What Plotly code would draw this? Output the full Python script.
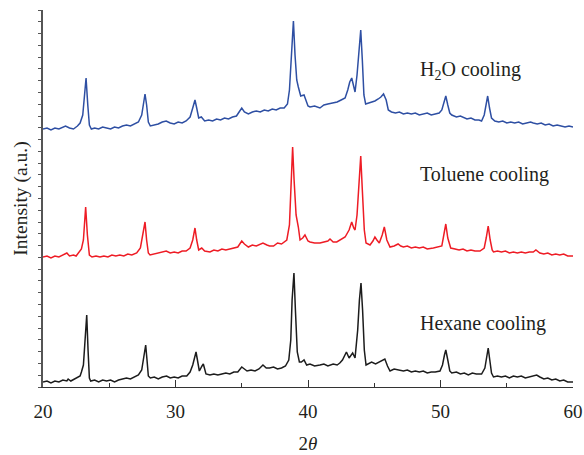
import plotly.graph_objects as go

# ---------------- data ----------------
two_theta_hexane = [20.0,20.3,20.6,20.9,21.2,21.5,21.8,21.9,22.1,22.4,22.66,22.8,22.9,23.05,23.15,23.3,23.4,23.5,23.6,23.9,
    24.2,24.5,24.8,25.1,25.4,25.7,26.0,26.3,26.6,26.9,27.2,27.45,27.6,27.75,27.85,27.95,28.1,28.4,28.7,29.0,
    29.33,29.6,29.9,30.2,30.5,30.85,31.1,31.3,31.55,31.7,31.8,32.0,32.1,32.3,32.6,32.9,33.2,33.5,33.8,34.1,
    34.4,34.7,35.0,35.2,35.4,35.7,36.0,36.3,36.6,36.85,37.1,37.4,37.7,38.0,38.3,38.55,38.7,38.8,38.94,39.05,
    39.19,39.35,39.5,39.7,39.9,40.15,40.5,40.9,41.2,41.5,41.9,42.2,42.4,42.6,42.9,43.1,43.37,43.55,43.75,43.88,
    44.0,44.12,44.25,44.38,44.6,44.8,45.1,45.4,45.6,45.8,46.0,46.19,46.5,46.9,47.2,47.5,47.8,48.1,48.4,48.7,
    49.0,49.3,49.6,49.96,50.15,50.3,50.4,50.55,50.7,50.85,51.2,51.5,51.8,52.1,52.4,52.7,53.1,53.35,53.5,53.6,
    53.72,53.85,54.0,54.3,54.6,54.9,55.2,55.5,55.8,56.1,56.4,56.7,57.0,57.26,57.5,57.8,58.1,58.4,58.7,59.0,
    59.3,59.6,60.0]
intensity_hexane = [5,6,4,6,5,7,6,8,6,8,10,11,15,22,42,72,37,9,6,7,
    5,7,6,7,5,7,8,9,8,10,12,17,32,42,27,11,9,10,8,10,
    11,9,10,9,11,11,15,22,35,25,16,21,23,13,12,13,12,13,14,13,
    15,15,20,18,16,17,16,18,22,19,19,20,18,19,21,27,47,87,114,77,
    35,25,25,27,22,23,21,22,23,21,23,22,24,27,35,29,34,29,57,87,
    104,77,37,22,24,25,23,25,26,28,21,16,18,17,16,17,15,16,15,16,
    14,15,15,16,22,32,37,27,16,14,15,13,14,12,14,13,13,19,32,39,
    27,14,10,11,10,11,9,11,10,11,9,10,11,12,10,8,9,7,8,6,
    7,5,5]

two_theta_toluene = [20.0,20.3,20.6,20.9,21.2,21.5,21.8,22.0,22.3,22.5,22.7,22.9,23.05,23.22,23.35,23.5,23.7,24.0,24.3,24.6,
    24.9,25.2,25.5,25.8,26.1,26.4,26.7,27.07,27.35,27.55,27.7,27.82,27.95,28.08,28.4,28.7,29.0,29.3,29.6,29.9,
    30.2,30.5,30.8,31.1,31.3,31.47,31.6,31.75,31.98,32.2,32.6,32.9,33.2,33.5,33.8,34.1,34.4,34.7,35.0,35.2,
    35.5,35.8,36.1,36.4,36.6,36.9,37.1,37.4,37.7,38.0,38.2,38.4,38.6,38.72,38.84,38.95,39.1,39.27,39.4,39.6,
    39.77,40.0,40.15,40.5,40.9,41.2,41.5,41.66,41.9,42.17,42.5,42.8,43.1,43.3,43.45,43.55,43.7,43.85,43.98,44.1,
    44.25,44.38,44.68,44.9,45.05,45.2,45.38,45.6,45.76,45.95,46.19,46.5,46.8,47.0,47.2,47.5,47.8,48.1,48.4,48.7,
    49.0,49.46,49.8,50.1,50.25,50.4,50.55,50.77,51.1,51.4,51.7,52.0,52.3,52.6,52.98,53.3,53.45,53.6,53.75,53.9,
    54.0,54.3,54.6,54.9,55.2,55.5,55.8,56.1,56.4,56.7,57.0,57.2,57.5,57.8,58.1,58.4,58.7,59.0,59.3,59.6,
    60.0]
intensity_toluene = [5,6,4,6,5,7,9,6,7,6,9,13,22,55,27,7,5,6,5,6,
    5,7,6,7,6,8,7,9,14,27,40,22,9,7,8,9,10,11,9,10,
    9,11,11,14,22,34,22,12,14,11,10,12,11,13,12,13,14,15,21,18,
    15,17,16,18,19,17,16,16,19,18,20,22,37,72,115,82,47,35,22,24,
    27,21,20,19,19,20,21,23,20,20,23,25,32,40,34,32,47,82,106,72,
    32,19,17,21,25,22,19,27,35,22,15,16,18,16,15,16,14,15,14,15,
    13,14,15,16,27,38,24,14,13,12,13,11,12,11,11,14,24,36,22,12,
    10,11,10,11,9,10,9,10,9,10,10,12,9,8,9,7,8,7,8,6,
    6]

two_theta_h2o = [20.0,20.3,20.6,20.9,21.2,21.5,21.7,22.0,22.3,22.6,22.8,23.0,23.12,23.25,23.38,23.5,23.65,23.9,24.2,24.5,
    24.8,25.1,25.4,25.7,26.0,26.3,26.6,26.9,27.2,27.45,27.6,27.7,27.82,27.95,28.1,28.4,28.7,29.0,29.3,29.6,
    29.9,30.2,30.5,30.8,31.1,31.3,31.47,31.6,31.75,31.95,32.2,32.5,32.8,33.1,33.4,33.7,34.0,34.3,34.6,34.85,
    35.0,35.2,35.5,35.8,36.1,36.4,36.7,37.0,37.3,37.6,37.9,38.2,38.45,38.6,38.75,38.9,39.02,39.15,39.27,39.45,
    39.7,39.85,40.0,40.15,40.5,40.9,41.2,41.5,41.9,42.2,42.5,42.8,43.0,43.15,43.3,43.45,43.55,43.7,43.85,43.98,
    44.1,44.22,44.35,44.6,44.85,45.05,45.3,45.5,45.7,45.9,46.06,46.3,46.6,46.9,47.2,47.5,47.8,48.1,48.4,48.7,
    49.0,49.3,49.6,49.9,50.1,50.25,50.4,50.55,50.7,50.85,51.2,51.5,51.8,52.0,52.3,52.6,52.9,53.1,53.3,53.45,
    53.56,53.7,53.85,54.1,54.4,54.7,55.0,55.3,55.6,55.9,56.2,56.5,56.8,57.0,57.3,57.6,57.9,58.2,58.5,58.8,
    59.1,59.4,59.7,60.0]
intensity_h2o = [8,9,7,9,8,10,11,9,8,11,14,22,37,59,32,12,8,9,8,10,
    9,8,10,9,11,12,11,13,15,22,35,43,32,15,11,12,13,15,16,14,
    13,15,14,16,20,29,37,29,19,20,16,17,16,18,17,19,18,20,21,26,
    29,25,23,25,26,25,27,26,28,27,29,29,33,47,87,116,82,57,50,41,
    42,37,31,30,31,29,32,33,34,35,37,39,47,55,59,49,45,62,92,107,
    77,42,33,34,35,36,38,40,43,37,27,25,24,25,23,24,23,24,22,23,
    24,22,23,24,27,35,41,32,24,22,20,21,19,18,19,17,17,16,22,34,
    41,29,19,16,15,16,14,15,14,15,13,14,15,14,13,14,12,13,11,12,
    11,10,11,10]

sample_labels = ["Hexane cooling", "Toluene cooling", "H<sub>2</sub>O cooling"]
x_ticks = [20, 30, 40, 50, 60]

# ---------------- styling / layout ----------------
offsets = [0, 125, 250]
colors = ["#1c1c1c", "#ee1c25", "#2e4fa3"]
series = [(two_theta_hexane, intensity_hexane),
          (two_theta_toluene, intensity_toluene),
          (two_theta_h2o, intensity_h2o)]
label_y = [64, 213, 317]
FONT = "Liberation Serif, Times New Roman, serif"

fig = go.Figure()
for (xs, ys), off, col, name in zip(series, offsets, colors, sample_labels):
    fig.add_trace(go.Scatter(x=xs, y=[v + off for v in ys], mode="lines",
                             line=dict(color=col, width=1.5), name=name,
                             showlegend=False))

for name, ly in zip(sample_labels, label_y):
    fig.add_annotation(x=48.3, y=ly, text=name, showarrow=False,
                       xanchor="left", yanchor="middle",
                       font=dict(family=FONT, size=20, color="#231f20"))

fig.update_layout(
    width=584, height=455,
    margin=dict(l=43, r=11, t=10, b=68, autoexpand=False),
    paper_bgcolor="white", plot_bgcolor="white",
    font=dict(family=FONT, size=18, color="#231f20"),
)
fig.update_xaxes(range=[20, 60], tickvals=x_ticks, ticktext=[str(t) for t in x_ticks],
                 ticks="inside", ticklen=7, tickwidth=1, tickcolor="#333",
                 minor=dict(dtick=5, tick0=20, ticks="inside", ticklen=4, tickcolor="#333"),
                 showline=True, linecolor="#333", linewidth=1.2,
                 showgrid=False, zeroline=False, automargin=False,
                 ticklabelstandoff=7,
                 title=dict(text="2<i>θ</i>", font=dict(size=19), standoff=15),
                 tickfont=dict(size=19))
fig.update_yaxes(range=[0, 377], tick0=0, dtick=377/32, showticklabels=False,
                 ticks="outside", ticklen=3, tickwidth=1, tickcolor="#555",
                 showline=True, linecolor="#555", linewidth=1.5,
                 showgrid=False, zeroline=False, automargin=False,
                 title=dict(text="Intensity (a.u.)", font=dict(size=19.5), standoff=5))

fig.write_html("out.html")
